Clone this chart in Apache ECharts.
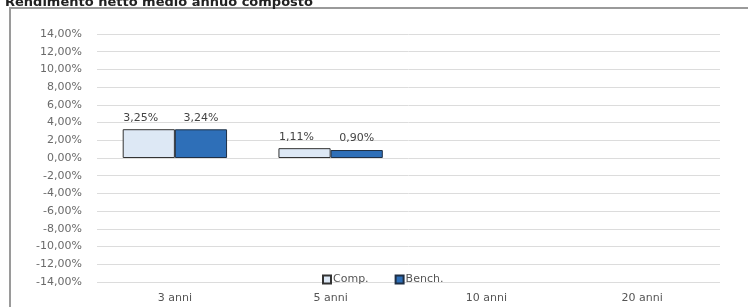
<!DOCTYPE html>
<html><head><meta charset="utf-8">
<script src="https://cdn.jsdelivr.net/npm/echarts@6/dist/echarts.min.js"></script>
<style>html,body{margin:0;padding:0;background:#fff}#c{width:748px;height:307px}</style>
</head><body><div id="c"></div>
<script>
var categories = ['3 anni', '5 anni', '10 anni', '20 anni'];
var compValues = [3.25, 1.11, null, null];
var benchValues = [3.24, 0.90, null, null];
var seriesNames = ['Comp.', 'Bench.'];
var titleText = 'Rendimento netto medio annuo composto';

function pct(v) { return v.toFixed(2).replace('.', ',') + '%'; }

var chart = echarts.init(document.getElementById('c'));
chart.setOption({
  animation: false,
  textStyle: { fontFamily: 'DejaVu Sans' },
  title: { text: titleText, left: 0, top: -9,
    textStyle: { fontSize: 13, fontWeight: 'bold', color: '#222', fontFamily: 'DejaVu Sans' } },
  graphic: [{ type: 'rect', shape: { x: 10, y: 8, width: 760, height: 320 },
    style: { fill: 'none', stroke: '#9a9a9a', lineWidth: 2 }, silent: true }],
  grid: { left: 97, right: 28, top: 34, bottom: 25 },
  legend: { data: seriesNames, left: 317, top: 269, itemWidth: 8, itemHeight: 8, itemGap: 26,
    textStyle: { fontSize: 11, color: '#555', fontFamily: 'DejaVu Sans', padding: [0, 0, 0, -3] },
    icon: 'rect' },
  xAxis: { type: 'category', data: categories,
    axisLine: { show: false }, axisTick: { show: false },
    axisLabel: { color: '#555', fontSize: 11, margin: 11 } },
  yAxis: { type: 'value', min: -14, max: 14, interval: 2,
    axisLine: { show: false }, axisTick: { show: false },
    splitLine: { lineStyle: { color: '#dcdcdc', width: 1 } },
    axisLabel: { color: '#6a6a6a', fontSize: 11, margin: 15, formatter: function (v) { return pct(v); } } },
  series: [
    { name: seriesNames[0], type: 'bar', data: compValues, barGap: '0%', barCategoryGap: '33%',
      itemStyle: { color: '#dde8f5', borderColor: '#333', borderWidth: 1 },
      label: { show: true, position: 'top', distance: 6, offset: [-8, 0], color: '#444', fontSize: 11,
        formatter: function (p) { return pct(p.value); } } },
    { name: seriesNames[1], type: 'bar', data: benchValues,
      itemStyle: { color: '#2e6fb8', borderColor: '#1f2f44', borderWidth: 1 },
      label: { show: true, position: 'top', distance: 6, color: '#444', fontSize: 11,
        formatter: function (p) { return pct(p.value); } } }
  ]
});
</script></body></html>
